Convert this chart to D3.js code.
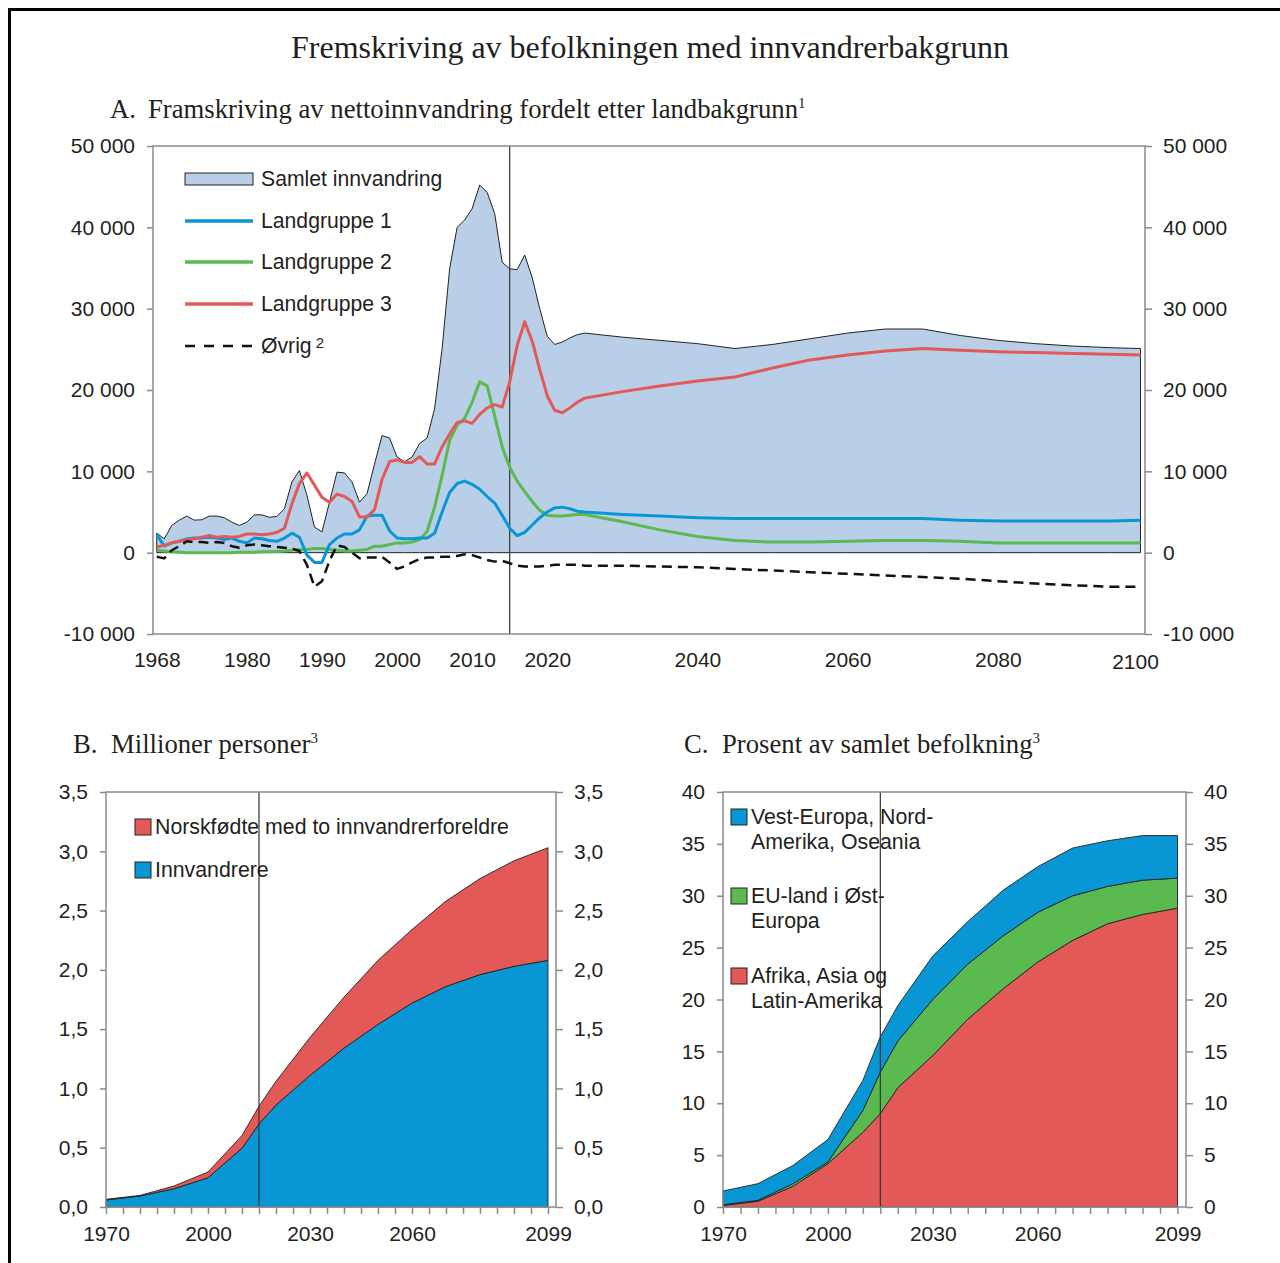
<!DOCTYPE html>
<html>
<head>
<meta charset="utf-8">
<script src="https://cdn.jsdelivr.net/npm/d3@7"></script>
<style>
  body { margin: 0; background: #fff; }
  svg { display: block; font-family: "Liberation Sans", Arial, sans-serif; }
  .serif { font-family: "Liberation Serif", "Times New Roman", serif; fill: #231f20; }
  .tick text { fill: #231f20; font-size: 21px; }
</style>
</head>
<body>
<div id="chart"></div>
<script>
// ---- Panel A: nettoinnvandring etter landbakgrunn
const yearsA = [
  1968, 1969, 1970, 1971, 1972, 1973, 1974, 1975, 1976, 1977,
  1978, 1979, 1980, 1981, 1982, 1983, 1984, 1985, 1986, 1987,
  1988, 1989, 1990, 1991, 1992, 1993, 1994, 1995, 1996, 1997,
  1998, 1999, 2000, 2001, 2002, 2003, 2004, 2005, 2006, 2007,
  2008, 2009, 2010, 2011, 2012, 2013, 2014, 2015, 2016, 2017,
  2018, 2019, 2020, 2021, 2022, 2023, 2024, 2025,
  2030, 2035, 2040, 2045, 2050, 2055, 2060, 2065, 2070, 2075, 2080, 2085, 2090, 2095, 2099
];
const samletInnvandring = [
  2400, 1700, 3350, 4000, 4500, 4000, 4050, 4500, 4500, 4300,
  3750, 3350, 3750, 4650, 4650, 4350, 4450, 5400, 8700, 10100,
  7050, 3150, 2550, 6200, 9900, 9800, 8700, 6200, 7250, 10900,
  14400, 14100, 11750, 11200, 11750, 13400, 14100, 17700, 25100, 34900,
  40000, 40900, 42300, 45200, 44300, 41700, 35700, 34900, 34800, 36600,
  33800, 30000, 26600, 25600, 25900, 26400, 26800, 27000,
  26500, 26100, 25700, 25100, 25600, 26300, 27000, 27500, 27500, 26700, 26100, 25700, 25400, 25200, 25100
];
const landgruppe1 = [
  2200, 800, 1200, 1400, 1700, 1800, 1800, 1900, 1800, 1600,
  1800, 1400, 1200, 1800, 1700, 1500, 1400, 1800, 2400, 1900,
  -300, -1200, -1200, 1000, 1800, 2300, 2300, 2800, 4500, 4600,
  4600, 2700, 1800, 1700, 1700, 1800, 1800, 2400, 5000, 7400,
  8500, 8800, 8400, 7800, 6900, 6100, 4600, 3000, 2100, 2500,
  3400, 4300, 5000, 5500, 5600, 5400, 5100, 5000,
  4700, 4500, 4300, 4200, 4200, 4200, 4200, 4200, 4200, 4000, 3900, 3900, 3900, 3900, 4000
];
const landgruppe2 = [
  300, 200, 100, 50, 0, 0, 0, 0, 0, 0,
  0, 50, 50, 50, 100, 100, 150, 200, 300, 400,
  400, 500, 500, 400, 300, 200, 200, 300, 400, 800,
  800, 1000, 1200, 1200, 1300, 1600, 2600, 5600, 9500, 13800,
  15700, 16500, 18500, 21000, 20500, 16800, 13000, 10500, 8800, 7500,
  6300, 5200, 4600, 4500, 4500, 4600, 4700, 4700,
  3800, 2800, 2000, 1500, 1300, 1300, 1400, 1500, 1500, 1400, 1200, 1200, 1200, 1200, 1200
];
const landgruppe3 = [
  700, 900, 1200, 1400, 1600, 1700, 1900, 2100, 1900, 2000,
  1900, 2000, 2300, 2300, 2200, 2300, 2500, 3000, 6000, 8500,
  9800, 8300, 6800, 6200, 7200, 6900, 6300, 4400, 4400, 5300,
  9000, 11200, 11400, 11100, 11100, 11800, 10900, 10900, 13000, 14600,
  16000, 16200, 15900, 17000, 17800, 18200, 17900, 21000, 25500, 28400,
  26000, 22500, 19300, 17500, 17200, 17800, 18500, 19000,
  19800, 20500, 21100, 21600, 22700, 23700, 24300, 24800, 25100, 24900, 24700, 24600, 24500, 24400, 24300
];
const ovrig = [
  -500, -700, 300, 800, 1400, 1300, 1300, 1200, 1300, 1200,
  800, 600, 900, 1000, 900, 800, 700, 600, 500, 200,
  -1500, -4200, -3500, -1000, 900, 700, 0, -700, -600, -600,
  -500, -1200, -2000, -1700, -1200, -800, -600, -600, -500, -500,
  -400, -200, -300, -600, -900, -1100, -1000, -1300, -1600, -1700,
  -1700, -1700, -1600, -1500, -1500, -1500, -1500, -1600,
  -1600, -1700, -1800, -2000, -2200, -2400, -2600, -2800, -3000, -3200, -3500, -3800, -4000, -4200, -4200
];
const yTicksA = [-10000, 0, 10000, 20000, 30000, 40000, 50000];
const xTicksA = [1968, 1980, 1990, 2000, 2010, 2020, 2040, 2060, 2080];
const projectionStart = 2015;

// ---- Panel B and C: befolkning med innvandrerbakgrunn
const categoriesBC = d3.range(1970, 2100, 5).concat([2099]);
const xLabelsBC = [1970, 2000, 2030, 2060, 2099];
const yearsBC = [1970, 1980, 1990, 2000, 2010, 2015, 2020, 2030, 2040, 2050, 2060, 2070, 2080, 2090, 2099];
// millioner personer
const innvandrere = [0.059, 0.093, 0.154, 0.247, 0.497, 0.70, 0.86, 1.11, 1.34, 1.54, 1.72, 1.86, 1.96, 2.03, 2.08];
const norskfodte = [0.006, 0.005, 0.023, 0.048, 0.106, 0.15, 0.20, 0.32, 0.43, 0.54, 0.62, 0.72, 0.81, 0.89, 0.95];
// prosent av samlet befolkning
const afrikaAsia = [0.16, 0.55, 2.0, 4.17, 7.2, 9.0, 11.5, 14.6, 18.1, 21.0, 23.6, 25.7, 27.3, 28.2, 28.8];
const euOst = [0.06, 0.09, 0.25, 0.16, 2.1, 4.0, 4.5, 5.4, 5.3, 5.1, 4.8, 4.3, 3.6, 3.3, 2.9];
const vestEuropa = [1.32, 1.61, 1.75, 2.17, 2.9, 3.4, 3.4, 4.2, 4.1, 4.4, 4.4, 4.6, 4.4, 4.3, 4.1];
const yTicksB = [0, 0.5, 1, 1.5, 2, 2.5, 3, 3.5];
const yTicksC = [0, 5, 10, 15, 20, 25, 30, 35, 40];

const colors = {
  samlet: "#b9cfe8",
  blue: "#0996d5",
  green: "#5ab94f",
  red: "#e35957",
  axis: "#8a8a8a",
  text: "#231f20",
};

const locale = d3.formatLocale({
  decimal: ",",
  thousands: " ",
  grouping: [3],
  currency: ["", ""],
  minus: "-",
});

const svg = d3
  .select("#chart")
  .append("svg")
  .attr("width", 1280)
  .attr("height", 1263);

// outer frame
svg
  .append("rect")
  .attr("x", 9.5)
  .attr("y", 9.5)
  .attr("width", 1300)
  .attr("height", 1300)
  .attr("fill", "none")
  .attr("stroke", "#000")
  .attr("stroke-width", 3);

svg
  .append("text")
  .attr("class", "serif")
  .attr("x", 650)
  .attr("y", 58)
  .attr("text-anchor", "middle")
  .style("font-size", "32px")
  .text("Fremskriving av befolkningen med innvandrerbakgrunn");

function panelTitle(x, xText, y, letter, text, sup) {
  const t = svg.append("text").attr("class", "serif").attr("y", y).style("font-size", "26.7px");
  t.append("tspan").attr("x", x).text(letter);
  t.append("tspan").attr("x", xText).text(text);
  t.append("tspan").attr("dy", -10).style("font-size", "15px").text(sup);
}

function frame(x0, x1, y0, y1) {
  svg
    .append("rect")
    .attr("x", x0)
    .attr("y", y0)
    .attr("width", x1 - x0)
    .attr("height", y1 - y0)
    .attr("fill", "none")
    .attr("stroke", colors.axis)
    .attr("stroke-width", 1.5);
}

function yAxes(yScale, ticks, fmt, xLeft, xRight) {
  svg
    .append("g")
    .attr("transform", `translate(${xLeft},0)`)
    .call(d3.axisLeft(yScale).tickValues(ticks).tickFormat(fmt).tickSize(6).tickPadding(12).tickSizeOuter(0))
    .call((g) => g.select(".domain").remove())
    .call((g) => g.selectAll(".tick line").attr("stroke", colors.axis).attr("stroke-width", 1.5));
  svg
    .append("g")
    .attr("transform", `translate(${xRight},0)`)
    .call(d3.axisRight(yScale).tickValues(ticks).tickFormat(fmt).tickSize(7).tickPadding(11).tickSizeOuter(0))
    .call((g) => g.select(".domain").remove())
    .call((g) => g.selectAll(".tick line").attr("stroke", colors.axis).attr("stroke-width", 1.5));
}

function projectionLine(x, y0, y1) {
  svg
    .append("line")
    .attr("x1", x)
    .attr("x2", x)
    .attr("y1", y0)
    .attr("y2", y1)
    .attr("stroke", "#333")
    .attr("stroke-width", 1.2);
}

// ===================== Panel A =====================
panelTitle(110, 148, 118, "A.", "Framskriving av nettoinnvandring fordelt etter landbakgrunn", "1");

const xA = d3.scaleLinear().domain([1967.5, 2099.6]).range([153, 1145]);
const yA = d3.scaleLinear().domain([-10000, 50000]).range([634, 146]);

const rowsA = yearsA.map((year, i) => ({
  year,
  samlet: samletInnvandring[i],
  l1: landgruppe1[i],
  l2: landgruppe2[i],
  l3: landgruppe3[i],
  ovrig: ovrig[i],
}));

svg
  .append("path")
  .datum(rowsA)
  .attr("fill", colors.samlet)
  .attr("stroke", "#222")
  .attr("stroke-width", 1)
  .attr(
    "d",
    d3
      .area()
      .x((d) => xA(d.year))
      .y0(yA(0))
      .y1((d) => yA(d.samlet))
  );

projectionLine(xA(projectionStart), 146, 634);

const seriesA = [
  { key: "l2", color: colors.green, dash: null, width: 3 },
  { key: "l1", color: colors.blue, dash: null, width: 3 },
  { key: "l3", color: colors.red, dash: null, width: 3 },
  { key: "ovrig", color: "#111", dash: "10,6", width: 2.5 },
];

seriesA.forEach((s) => {
  svg
    .append("path")
    .datum(rowsA)
    .attr("fill", "none")
    .attr("stroke", s.color)
    .attr("stroke-width", s.width)
    .attr("stroke-linejoin", "round")
    .attr("stroke-dasharray", s.dash)
    .attr(
      "d",
      d3
        .line()
        .x((d) => xA(d.year))
        .y((d) => yA(d[s.key]))
    );
});

frame(153, 1145, 146, 634);
yAxes(yA, yTicksA, locale.format(",d"), 153, 1145);

svg
  .append("g")
  .attr("transform", `translate(0,634)`)
  .call(d3.axisBottom(xA).tickValues(xTicksA).tickFormat(d3.format("d")).tickSize(0).tickPadding(18))
  .call((g) => g.select(".domain").remove());

svg
  .append("text")
  .attr("x", xA(2099) - 5)
  .attr("y", 669)
  .attr("text-anchor", "middle")
  .style("font-size", "21px")
  .attr("fill", colors.text)
  .text("2100");

// legend A
const legendA = svg.append("g").attr("transform", "translate(185,0)").style("font-size", "21.2px").attr("fill", colors.text);
legendA
  .append("rect")
  .attr("x", 0)
  .attr("y", 173)
  .attr("width", 68)
  .attr("height", 12)
  .attr("fill", colors.samlet)
  .attr("stroke", "#222");
legendA.append("text").attr("x", 76).attr("y", 186).text("Samlet innvandring");

const legendLines = [
  { y: 221, label: "Landgruppe 1", color: colors.blue, dash: null, width: 3.5 },
  { y: 262, label: "Landgruppe 2", color: colors.green, dash: null, width: 3.5 },
  { y: 304, label: "Landgruppe 3", color: colors.red, dash: null, width: 3.5 },
];
legendLines.forEach((l) => {
  legendA
    .append("line")
    .attr("x1", 0)
    .attr("x2", 68)
    .attr("y1", l.y)
    .attr("y2", l.y)
    .attr("stroke", l.color)
    .attr("stroke-width", l.width);
  legendA.append("text").attr("x", 76).attr("y", l.y + 7).text(l.label);
});
legendA
  .append("line")
  .attr("x1", 0)
  .attr("x2", 68)
  .attr("y1", 346)
  .attr("y2", 346)
  .attr("stroke", "#111")
  .attr("stroke-width", 2.5)
  .attr("stroke-dasharray", "10,9");
const ovrigText = legendA.append("text").attr("x", 76).attr("y", 353);
ovrigText.append("tspan").text("Øvrig");
ovrigText.append("tspan").attr("dx", 4).attr("dy", -5).style("font-size", "15px").text("2");

// ===================== Panel B and C helpers =====================
function stackedPanel(opts) {
  const x = d3.scalePoint().domain(categoriesBC).range([opts.x0, opts.xEnd]);
  const y = d3.scaleLinear().domain(opts.yDomain).range([1207, 792]);

  const stack = d3.stack().keys(opts.keys)(opts.rows);
  svg
    .append("g")
    .selectAll("path")
    .data(stack)
    .join("path")
    .attr("fill", (d) => opts.colors[d.key])
    .attr("stroke", "#222")
    .attr("stroke-width", 0.9)
    .attr("stroke-linejoin", "round")
    .attr(
      "d",
      d3
        .area()
        .x((d) => x(d.data.year))
        .y0((d) => y(d[0]))
        .y1((d) => y(d[1]))
    );

  projectionLine(x(projectionStart), 792, 1207);
  frame(opts.x0, opts.x1, 792, 1207);
  yAxes(y, opts.yTicks, opts.fmt, opts.x0, opts.x1);

  svg
    .append("g")
    .attr("transform", "translate(0,1207)")
    .call(d3.axisBottom(x).tickFormat("").tickSize(7).tickSizeOuter(0))
    .call((g) => g.select(".domain").remove())
    .call((g) => g.selectAll(".tick line").attr("stroke", colors.axis).attr("stroke-width", 1.5));
  svg
    .append("g")
    .attr("transform", `translate(${opts.labelShift || 0},1207)`)
    .call(d3.axisBottom(x).tickValues(xLabelsBC).tickFormat(d3.format("d")).tickSize(0).tickPadding(19))
    .call((g) => g.select(".domain").remove());
}

function legendBox(x, y, color, lines) {
  svg
    .append("rect")
    .attr("x", x)
    .attr("y", y)
    .attr("width", 16)
    .attr("height", 16)
    .attr("fill", color)
    .attr("stroke", "#222")
    .attr("stroke-width", 1);
  const t = svg.append("text").attr("fill", colors.text).style("font-size", "21.3px");
  lines.forEach((line, i) => {
    t.append("tspan").attr("x", x + 20).attr("y", y + 15 + i * 25).text(line);
  });
}

// ===================== Panel B =====================
panelTitle(73, 111, 753, "B.", "Millioner personer", "3");

const rowsB = yearsBC.map((year, i) => ({
  year,
  innvandrere: innvandrere[i],
  norskfodte: norskfodte[i],
}));

stackedPanel({
  rows: rowsB,
  keys: ["innvandrere", "norskfodte"],
  colors: { innvandrere: colors.blue, norskfodte: colors.red },
  x0: 106,
  xEnd: 548,
  x1: 556,
  yDomain: [0, 3.5],
  yTicks: yTicksB,
  fmt: locale.format(".1f"),
});

legendBox(135, 819, colors.red, ["Norskfødte med to innvandrerforeldre"]);
legendBox(135, 862, colors.blue, ["Innvandrere"]);

// ===================== Panel C =====================
panelTitle(684, 722, 753, "C.", "Prosent av samlet befolkning", "3");

const rowsC = yearsBC.map((year, i) => ({
  year,
  afrika: afrikaAsia[i],
  eu: euOst[i],
  vest: vestEuropa[i],
}));

stackedPanel({
  rows: rowsC,
  keys: ["afrika", "eu", "vest"],
  colors: { afrika: colors.red, eu: colors.green, vest: colors.blue },
  x0: 723,
  xEnd: 1177.5,
  x1: 1186,
  yDomain: [0, 40],
  yTicks: yTicksC,
  fmt: d3.format("d"),
});

legendBox(731, 809, colors.blue, ["Vest-Europa, Nord-", "Amerika, Oseania"]);
legendBox(731, 888, colors.green, ["EU-land i Øst-", "Europa"]);
legendBox(731, 968, colors.red, ["Afrika, Asia og", "Latin-Amerika"]);
</script>
</body>
</html>
